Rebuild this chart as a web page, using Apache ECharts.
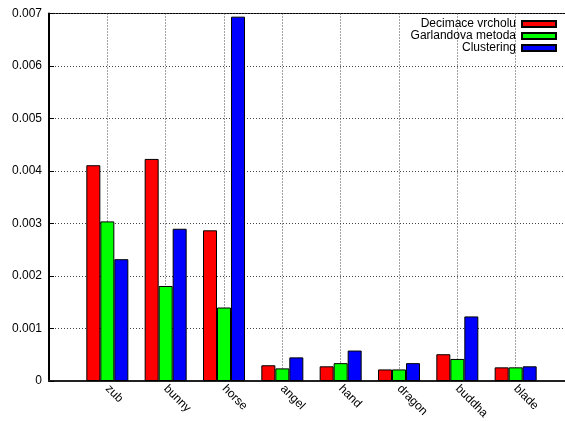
<!DOCTYPE html>
<html>
<head>
<meta charset="utf-8">
<script src="https://cdn.jsdelivr.net/npm/echarts@6/dist/echarts.min.js"></script>
<style>
  html, body { margin: 0; padding: 0; background: #fff; }
  #chart { width: 565px; height: 421px; }
</style>
</head>
<body>
<div id="chart"></div>
<script>
// Error per model for three simplification methods
const categories = ['zub', 'bunny', 'horse', 'angel', 'hand', 'dragon', 'buddha', 'blade'];
const seriesNames = ['Decimace vrcholu', 'Garlandova metoda', 'Clustering'];
const decimace   = [0.00411, 0.00423, 0.00287, 0.00030, 0.00028, 0.00022, 0.00051, 0.00026];
const garland    = [0.00304, 0.00181, 0.00140, 0.00024, 0.00034, 0.00022, 0.00042, 0.00026];
const clustering = [0.00232, 0.00290, 0.00694, 0.00045, 0.00058, 0.00034, 0.00123, 0.00028];
const colors = ['#ff0000', '#00ff00', '#0000ff'];
const yTicks = [0, 0.001, 0.002, 0.003, 0.004, 0.005, 0.006, 0.007];

// one empty slot on each side so the x range runs from -1 to n
const axisCats = [''].concat(categories, ['']);
const pad = arr => [null].concat(arr, [null]);
const values = [decimace, garland, clustering];

const font = 'Liberation Sans, Arial, sans-serif';
const gridLine = { show: true, lineStyle: { color: '#444', width: 1, type: [1, 2] } };

const chart = echarts.init(document.getElementById('chart'), null, { renderer: 'canvas' });
chart.setOption({
  animation: false,
  backgroundColor: '#fff',
  grid: {
    left: 49, top: 13.5, width: 525, height: 367.5,
    outerBoundsMode: 'none',
    containLabel: false,
    show: true, borderColor: '#000', borderWidth: 1, backgroundColor: 'transparent'
  },
  legend: seriesNames.map((name, i) => ({
    data: [name],
    right: 8,
    top: 18 + i * 12,
    align: 'right',
    icon: 'rect',
    itemWidth: 34,
    itemHeight: 6,
    itemGap: 0,
    padding: 0,
    selectedMode: false,
    textStyle: { fontFamily: font, fontSize: 12, color: '#000', padding: [0, 1, 0, 0] }
  })),
  xAxis: {
    type: 'category',
    data: axisCats,
    boundaryGap: false,
    axisLine: { show: true, lineStyle: { color: '#222', width: 2 } },
    axisTick: { show: false },
    splitLine: gridLine,
    axisLabel: {
      rotate: -45,
      margin: 6,
      fontFamily: font,
      fontSize: 12,
      color: '#000',
      interval: 0
    }
  },
  yAxis: {
    type: 'value',
    min: 0,
    max: yTicks[yTicks.length - 1],
    interval: 0.001,
    axisLine: { show: true, lineStyle: { color: '#000', width: 2 } },
    axisTick: { show: true, inside: true, length: 5, lineStyle: { color: '#000' } },
    splitLine: gridLine,
    axisLabel: {
      margin: 7,
      fontFamily: font,
      fontSize: 12,
      color: '#000',
      formatter: v => (v === 0 ? '0' : v.toFixed(3))
    }
  },
  series: seriesNames.map((name, i) => ({
    name,
    type: 'bar',
    data: pad(values[i]),
    barWidth: 14,
    barGap: '0%',
    itemStyle: { color: colors[i], borderColor: '#000', borderWidth: 1 }
  }))
});
</script>
</body>
</html>
